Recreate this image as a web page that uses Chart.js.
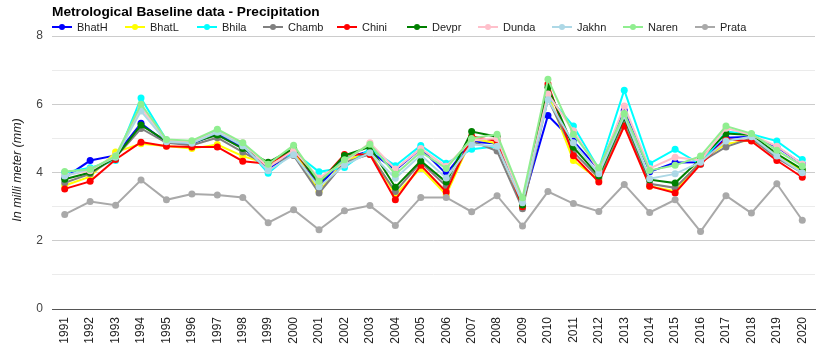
<!DOCTYPE html>
<html>
<head>
<meta charset="utf-8">
<script src="https://cdn.jsdelivr.net/npm/chart.js@4/dist/chart.umd.min.js"></script>
<style>
html,body{margin:0;padding:0;background:#fff;}
#wrap{position:relative;width:835px;height:355px;}
</style>
</head>
<body>
<div id="wrap"><canvas id="c" width="835" height="355"></canvas></div>
<script>
const years = ['1991','1992','1993','1994','1995','1996','1997','1998','1999','2000','2001','2002','2003','2004','2005','2006','2007','2008','2009','2010','2011','2012','2013','2014','2015','2016','2017','2018','2019','2020'];
const BhatH = [3.85,4.35,4.50,5.44,4.88,4.84,5.14,4.73,4.10,4.60,3.60,4.42,4.63,4.07,4.70,3.96,4.90,4.85,3.10,5.67,4.92,4.09,5.82,4.02,4.29,4.30,5.02,5.05,4.75,4.25];
const BhatL = [3.62,3.88,4.60,4.84,4.78,4.70,4.82,4.48,4.25,4.65,3.45,4.35,4.60,3.35,4.12,3.35,5.00,4.85,3.00,6.30,4.35,3.79,5.45,3.60,3.45,4.35,4.84,4.95,4.53,4.05];
const Bhila = [4.00,4.14,4.35,6.18,4.95,4.88,5.24,4.82,3.98,4.60,4.02,4.15,4.70,4.20,4.79,4.27,4.68,4.77,3.20,6.24,5.36,4.10,6.41,4.26,4.68,4.24,5.20,5.12,4.92,4.38];
const Chamb = [3.70,3.96,4.45,5.29,4.87,4.80,5.02,4.60,4.20,4.50,3.40,4.30,4.53,3.44,4.30,3.60,4.92,4.63,2.94,6.15,4.60,3.84,5.51,3.67,3.55,4.30,4.75,5.00,4.43,3.99];
const Chini = [3.52,3.74,4.38,4.89,4.77,4.75,4.75,4.33,4.26,4.65,3.70,4.53,4.53,3.20,4.21,3.43,5.06,4.92,3.00,6.59,4.49,3.72,5.36,3.60,3.40,4.24,4.97,4.92,4.35,3.86];
const Devpr = [3.80,4.00,4.45,5.39,4.92,4.88,5.10,4.70,4.30,4.70,3.68,4.50,4.75,3.57,4.34,3.72,5.20,5.05,3.05,6.50,4.74,3.90,5.61,3.79,3.69,4.40,5.14,5.10,4.55,4.09];
const Dunda = [3.92,4.05,4.50,5.90,4.93,4.90,5.20,4.87,4.15,4.65,3.84,4.30,4.87,4.10,4.70,4.18,4.95,5.00,3.15,6.30,5.22,4.05,5.95,4.12,4.45,4.35,5.30,5.10,4.77,4.25];
const Jakhn = [3.90,4.10,4.45,5.80,4.90,4.86,5.18,4.78,4.05,4.52,3.58,4.22,4.58,3.83,4.51,3.84,4.82,4.77,3.11,6.13,4.87,3.96,5.66,3.82,3.96,4.30,4.92,5.05,4.48,3.99];
const Naren = [4.03,4.09,4.48,6.00,4.97,4.93,5.27,4.87,4.24,4.80,3.74,4.37,4.83,3.95,4.60,4.12,5.00,5.12,3.26,6.73,5.12,4.14,5.73,4.06,4.21,4.48,5.36,5.14,4.65,4.19];
const Prata = [2.77,3.15,3.04,3.78,3.20,3.37,3.34,3.27,2.53,2.91,2.32,2.88,3.03,2.45,3.27,3.27,2.85,3.32,2.43,3.44,3.09,2.86,3.65,2.83,3.20,2.27,3.32,2.81,3.67,2.60];
const yTicks = [0,2,4,6,8];

const seriesNames = ['BhatH','BhatL','Bhila','Chamb','Chini','Devpr','Dunda','Jakhn','Naren','Prata'];
const seriesData = [BhatH,BhatL,Bhila,Chamb,Chini,Devpr,Dunda,Jakhn,Naren,Prata];
const colors = ['#0000ff','#ffff00','#00ffff','#808080','#ff0000','#008000','#ffc0cb','#add8e6','#90ee90','#a9a9a9'];
const FONT = 'Arial, "Liberation Sans", sans-serif';

const datasets = seriesNames.map((n,i)=>({
  label:n, data:seriesData[i], borderColor:colors[i], backgroundColor:colors[i],
  borderWidth:2, pointRadius:3.5, pointHoverRadius:3.5, pointBorderWidth:0,
  tension:0, order: seriesNames.length - i, clip:false
}));

const legendX = [52,125,197,263,337,407,478,552,623,695];
const overlay = {
  id:'overlay',
  afterDraw(chart){
    const ctx = chart.ctx;
    ctx.save();
    ctx.fillStyle = '#000';
    ctx.font = 'bold 13.7px ' + FONT;
    ctx.textBaseline = 'middle';
    ctx.textAlign = 'left';
    ctx.fillText('Metrological Baseline data - Precipitation', 52, 12);
    ctx.font = '11px ' + FONT;
    seriesNames.forEach((n,i)=>{
      const x = legendX[i], y = 27;
      ctx.strokeStyle = colors[i]; ctx.lineWidth = 2;
      ctx.beginPath(); ctx.moveTo(x,y); ctx.lineTo(x+20,y); ctx.stroke();
      ctx.fillStyle = colors[i];
      ctx.beginPath(); ctx.arc(x+10,y,3,0,Math.PI*2); ctx.fill();
      ctx.fillStyle = '#222';
      ctx.fillText(n, x+25, y+0.5);
    });
    ctx.translate(18, 170);
    ctx.rotate(-Math.PI/2);
    ctx.textAlign = 'center';
    ctx.font = 'italic 12.5px ' + FONT;
    ctx.fillStyle = '#222';
    ctx.fillText('In milli meter (mm)', 0, 0);
    ctx.restore();
  }
};

new Chart(document.getElementById('c'), {
  type:'line',
  data:{labels:years, datasets},
  options:{
    responsive:false, animation:false, events:[],
    layout:{padding:{top:36,right:20,bottom:0,left:0}},
    plugins:{legend:{display:false}, title:{display:false}, tooltip:{enabled:false}},
    scales:{
      x:{
        offset:true,
        grid:{display:false, drawTicks:false},
        border:{display:true, color:'#555', width:1},
        ticks:{maxRotation:90, minRotation:90, autoSkip:false, padding:8, color:'#222', font:{family:FONT, size:12}},
        afterFit(s){ s.height = 46; }
      },
      y:{
        min:0, max:8,
        grid:{drawTicks:false, color:(c)=> c.tick && c.tick.value===0 ? 'rgba(0,0,0,0)' : (c.tick && c.tick.value % 2 === 0 ? '#cccccc' : '#ebebeb'), lineWidth:1},
        border:{display:false},
        ticks:{stepSize:1, padding:9, color:'#444', font:{family:FONT, size:12},
          callback:(v)=> yTicks.includes(v) ? String(v) : ''},
        afterFit(s){ s.width = 52; }
      }
    }
  },
  plugins:[overlay]
});
</script>
</body>
</html>
